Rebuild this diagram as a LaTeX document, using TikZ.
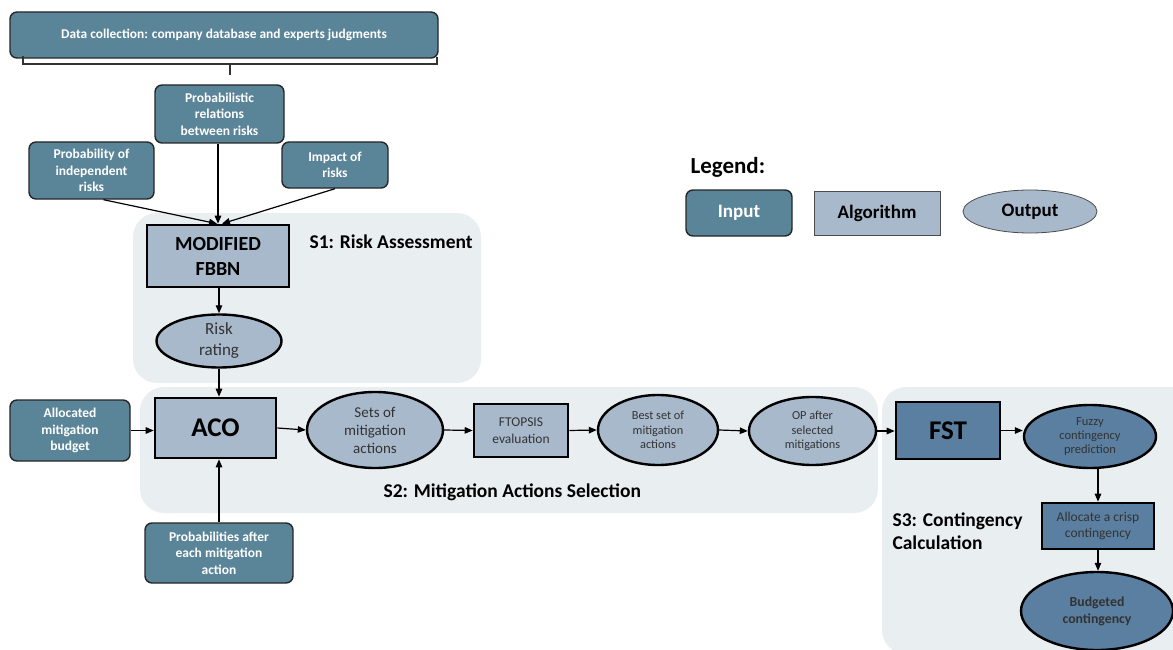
\documentclass[tikz,border=0pt]{standalone}
\usepackage{fontspec}
\setmainfont{Carlito}
\usetikzlibrary{shapes.geometric,arrows.meta,calc}
\definecolor{inpc}{HTML}{5A8498}
\definecolor{algc}{HTML}{A8B9CC}
\definecolor{darkc}{HTML}{5B7FA0}
\definecolor{regc}{HTML}{E9EEF1}
\definecolor{txtc}{HTML}{333333}
\tikzset{
  inp/.style={draw=black!85, line width=1.4pt, rounded corners=7pt, fill=inpc, text=white, font=\bfseries\fontsize{13.5}{16.5}\selectfont, align=center},
  alg/.style={draw=black, line width=2.6pt, fill=algc, align=center},
  outp/.style={ellipse, draw=black, line width=2.4pt, fill=algc, align=center, text=txtc, inner sep=0pt},
  region/.style={fill=regc, draw=none, rounded corners=24pt},
  stitle/.style={font=\bfseries\fontsize{19.5}{23}\selectfont},
  arr/.style={-{Triangle[length=8pt,width=6.5pt]}, line width=1.2pt},
  sz/.style 2 args={minimum width=#1, minimum height=#2, inner sep=0pt},
}
\begin{document}
\begin{tikzpicture}[x=1pt,y=-1pt]
\useasboundingbox (0,0) rectangle (1173,650);
\begin{scope}
\clip (0,0) rectangle (1173,650);
% regions
\fill[region] (133,213) rectangle (481,383);
\fill[region] (140,387) rectangle (878,513);
\fill[region] (882,387) rectangle (1200,654);
\end{scope}
\node[stitle, anchor=west] (s1) at (306,242) {S1: Risk Assessment};
\node[stitle, anchor=west] (s2) at (380,492) {S2: Mitigation Actions Selection};
\node[stitle, anchor=west, align=left] (s3) at (889,531) {S3: Contingency\\Calculation};

% inputs
\node[inp, sz={428pt}{46pt}, font=\bfseries\fontsize{13.4}{16}\selectfont] (data) at (224,35) {Data collection: company database and experts judgments};
\draw[line width=1.3pt, black!80] (23,56) -- (23,64) -- (437,64) -- (437,57);
\draw[line width=1.3pt, black!80] (230,64) -- (230,75);
\node[inp, sz={129pt}{58pt}] (prel) at (219.5,114) {Probabilistic\\relations\\between risks};
\node[inp, sz={125pt}{57pt}] (pind) at (91.5,170.5) {Probability of\\independent\\risks};
\node[inp, sz={106pt}{46pt}] (imp) at (335,165) {Impact of\\risks};
\node[inp, sz={120pt}{61pt}] (alloc) at (70,430.5) {Allocated\\mitigation\\budget};
\node[inp, sz={148pt}{60pt}] (pafter) at (219,553) {Probabilities after\\each mitigation\\action};

% S1
\node[alg, sz={142pt}{62pt}, font=\bfseries\fontsize{20}{25}\selectfont] (fbbn) at (218,256) {MODIFIED\\FBBN};
\node[outp, sz={125pt}{53pt}, font=\fontsize{17}{21}\selectfont] (risk) at (219,341) {Risk\\rating};

% S2
\node[alg, sz={121pt}{60pt}, font=\bfseries\fontsize{27}{30}\selectfont] (aco) at (215.5,428) {ACO};
\node[outp, sz={136pt}{76pt}, font=\fontsize{15}{18}\selectfont] (sets) at (375,430) {Sets of\\mitigation\\actions};
\node[alg, sz={94pt}{53pt}, font=\fontsize{13.5}{16.5}\selectfont, text=txtc] (ftop) at (521,430.5) {FTOPSIS\\evaluation};
\node[outp, sz={120pt}{70pt}, font=\fontsize{12.3}{14.5}\selectfont] (best) at (658,430) {Best set of\\mitigation\\actions};
\node[outp, sz={127pt}{68pt}, font=\fontsize{12.3}{14.5}\selectfont] (op) at (812.5,431) {OP after\\selected\\mitigations};

% S3
\node[alg, fill=darkc, sz={104pt}{57pt}, font=\bfseries\fontsize{27}{30}\selectfont] (fst) at (948,430.5) {FST};
\node[outp, fill=darkc, sz={132pt}{63pt}, font=\fontsize{12.5}{14}\selectfont] (fuzzy) at (1090,436.5) {Fuzzy\\contingency\\prediction};
\node[alg, fill=darkc, sz={112pt}{46pt}, font=\fontsize{13.5}{16}\selectfont, text=txtc] (crisp) at (1098,526) {Allocate a crisp\\contingency};
\node[outp, fill=darkc, sz={152pt}{78pt}, font=\bfseries\fontsize{13.8}{17}\selectfont] (budget) at (1097,611) {Budgeted\\contingency};

% arrows
\draw[arr] ($(pind.south)+(12,0)$) -- ($(fbbn.north)+(-1,0)$);
\draw[arr] (prel.south -| fbbn.north) -- (fbbn.north);
\draw[arr] (imp.south) -- ($(fbbn.north)+(4,0)$);
\draw[arr] (fbbn.south -| risk.north) -- (risk.north);
\draw[arr] (risk.south) -- (risk.south |- aco.north);
\draw[arr] (alloc.east) -- (alloc.east -| aco.west);
\draw[arr] (pafter.north) -- (pafter.north |- aco.south);
\draw[arr] (aco.east) -- (sets.west);
\draw[arr] (sets.east) -- (ftop.west);
\draw[arr] (ftop.east) -- (best.west);
\draw[arr] (best.east) -- (op.west);
\draw[arr] (op.east) -- (op.east -| fst.west);
\draw[arr] (fst.east) -- (fst.east -| fuzzy.west);
\draw[arr] (fuzzy.south -| crisp.north) -- (crisp.north);
\draw[arr] (crisp.south) -- (crisp.south |- budget.north);

% legend
\node[font=\bfseries\fontsize{23}{27}\selectfont, anchor=west] (leg) at (687,167) {Legend:};
\node[inp, sz={106pt}{46pt}, font=\bfseries\fontsize{19}{22}\selectfont] (linp) at (739,213) {Input};
\node[draw=black!70, line width=0.8pt, fill=algc, sz={126pt}{44pt}, font=\bfseries\fontsize{19}{22}\selectfont] (lalg) at (877,213) {Algorithm};
\node[ellipse, draw=black!70, line width=0.8pt, fill=algc, sz={134pt}{43pt}, font=\bfseries\fontsize{19}{22}\selectfont] (lout) at (1030,211.5) {Output};
\end{tikzpicture}
\end{document}
